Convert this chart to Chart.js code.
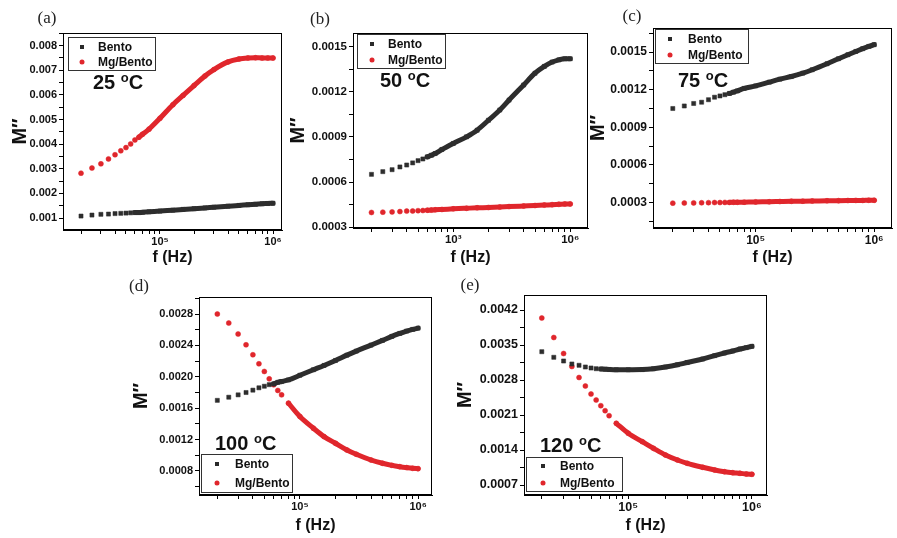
<!DOCTYPE html>
<html>
<head>
<meta charset="utf-8">
<script src="https://cdn.jsdelivr.net/npm/chart.js@4/dist/chart.umd.min.js"></script>
<style>
  html, body { margin: 0; padding: 0; background: #fff; }
  #wrap { position: relative; width: 897px; height: 538px; overflow: hidden; background: #fff; font-family: "Liberation Sans", Arial, sans-serif; }
  canvas { position: absolute; }
  .plabel { position: absolute; font-family: "Liberation Serif", "Times New Roman", serif; font-size: 17px; color: #222; transform: translate(-50%, -50%); white-space: nowrap; }
  .temp { position: absolute; font-weight: bold; font-size: 20px; color: #111; transform: translateY(-50%); white-space: nowrap; line-height: 20px; }
  .temp sup { font-size: 13px; vertical-align: 7px; line-height: 0; }
  .legend { position: absolute; border: 1px solid #333; box-sizing: border-box; }
  .lrow { position: absolute; font-weight: bold; font-size: 12px; color: #111; white-space: nowrap; line-height: 14px; transform: translateY(-50%); }
  .msq { position: absolute; width: 4px; height: 4px; background: #2a2a2a; transform: translate(-50%, -50%); }
  .mci { position: absolute; width: 5px; height: 5px; border-radius: 50%; background: #e0262c; transform: translate(-50%, -50%); }
</style>
</head>
<body>
<div id="wrap"></div>
<script>
// ---------------- data ----------------
const freqHz = [20000, 25000, 30000, 35000, 40000, 45000, 50000, 55000, 60000, 65000, 70000, 80000,
  100000, 130000, 160000, 200000, 250000, 300000, 400000, 500000, 600000, 700000, 800000, 900000, 1000000];

const bento25 = [0.00108, 0.00112, 0.00115, 0.00116, 0.00118, 0.00119, 0.0012, 0.00121, 0.00122, 0.00122, 0.00123, 0.00125,
  0.00128, 0.00132, 0.00135, 0.00138, 0.00141, 0.00144, 0.00148, 0.00151, 0.00154, 0.00156, 0.00158, 0.00159, 0.0016];
const mgBento25 = [0.00282, 0.00303, 0.0032, 0.0034, 0.00357, 0.00373, 0.00386, 0.00401, 0.00417, 0.00428, 0.0044, 0.00461,
  0.00505, 0.0056, 0.00598, 0.00638, 0.00677, 0.00703, 0.00734, 0.00746, 0.0075, 0.00751, 0.0075, 0.0075, 0.0075];

const bento50 = [0.000651, 0.000669, 0.000682, 0.0007, 0.000713, 0.000727, 0.000742, 0.000753, 0.000767, 0.000778, 0.000789, 0.000816,
  0.000856, 0.0009, 0.000944, 0.00101, 0.001078, 0.001144, 0.001244, 0.001322, 0.001367, 0.001396, 0.001411, 0.001418, 0.001418];
const mgBento50 = [0.000398, 0.0004, 0.000402, 0.000404, 0.000407, 0.000408, 0.00041, 0.000411, 0.000413, 0.000414, 0.000416, 0.000418,
  0.000422, 0.000426, 0.000429, 0.000431, 0.000434, 0.000437, 0.000441, 0.000444, 0.000447, 0.00045, 0.000452, 0.000454, 0.000455];

const bento75 = [0.00105, 0.00107, 0.00109, 0.0011, 0.00112, 0.00114, 0.00115, 0.00116, 0.00117, 0.00118, 0.00119, 0.00121,
  0.00123, 0.00126, 0.001284, 0.001305, 0.001332, 0.001359, 0.001407, 0.001447, 0.001479, 0.001505, 0.001527, 0.001545, 0.001559];
const mgBento75 = [0.000295, 0.000296, 0.000297, 0.000298, 0.000299, 0.0003, 0.0003, 0.000301, 0.000301, 0.000302, 0.000302, 0.000303,
  0.000305, 0.000306, 0.000308, 0.00031, 0.000311, 0.000312, 0.000314, 0.000315, 0.000316, 0.000317, 0.000317, 0.000318, 0.000318];

const bento100 = [0.0017, 0.00174, 0.00177, 0.0018, 0.00183, 0.00186, 0.00188, 0.0019, 0.00191, 0.00193, 0.00194, 0.00196,
  0.00202, 0.00209, 0.002145, 0.002208, 0.002276, 0.002328, 0.002404, 0.002464, 0.002515, 0.002553, 0.002583, 0.002604, 0.00262];
const mgBento100 = [0.0028, 0.002685, 0.002545, 0.002408, 0.002281, 0.002166, 0.002068, 0.001974, 0.001898, 0.001826, 0.00177, 0.001664,
  0.001494, 0.001345, 0.001238, 0.001153, 0.001068, 0.001013, 0.00094, 0.000898, 0.000872, 0.000855, 0.000843, 0.000834, 0.00083];

const bento120 = [0.003366, 0.003254, 0.00318, 0.00312, 0.003094, 0.00306, 0.00304, 0.003026, 0.00302, 0.003015, 0.00301, 0.003005,
  0.003005, 0.003008, 0.003025, 0.00306, 0.003105, 0.00315, 0.00322, 0.003287, 0.00334, 0.00338, 0.00342, 0.003447, 0.003473];
const mgBento120 = [0.00404, 0.00365, 0.00333, 0.00307, 0.00285, 0.00268, 0.00252, 0.0024, 0.002286, 0.002186, 0.002086, 0.001934,
  0.001734, 0.001566, 0.001434, 0.0013, 0.0012, 0.001134, 0.001054, 0.001, 0.000966, 0.000946, 0.000934, 0.00092, 0.000914];

const xTickValues = [20000, 30000, 40000, 50000, 60000, 70000, 80000, 90000, 100000,
  200000, 300000, 400000, 500000, 600000, 700000, 800000, 900000, 1000000];
const xTickLabels = { 100000: '10\u2075', 1000000: '10\u2076' };
const xTickLabelsB = { 100000: '10\u00B3', 1000000: '10\u2076' };

const yTicks25 = [0.001, 0.002, 0.003, 0.004, 0.005, 0.006, 0.007, 0.008];
const yLabels25 = ['0.001', '0.002', '0.003', '0.004', '0.005', '0.006', '0.007', '0.008'];
const yTicks50 = [0.0003, 0.0006, 0.0009, 0.0012, 0.0015];
const yLabels50 = ['0.0003', '0.0006', '0.0009', '0.0012', '0.0015'];
const yTicks100 = [0.0008, 0.0012, 0.0016, 0.0020, 0.0024, 0.0028];
const yLabels100 = ['0.0008', '0.0012', '0.0016', '0.0020', '0.0024', '0.0028'];
const yTicks120 = [0.0007, 0.0014, 0.0021, 0.0028, 0.0035, 0.0042];
const yLabels120 = ['0.0007', '0.0014', '0.0021', '0.0028', '0.0035', '0.0042'];

const seriesNames = ['Bento', 'Mg/Bento'];
const tempLabels = ['25', '50', '75', '100', '120'];
const panelLetters = ['(a)', '(b)', '(c)', '(d)', '(e)'];

// ---------------- layout / style ----------------
const BLACK = '#2d2d2d';
const RED = '#e0262c';

const panels = [
  { letter: panelLetters[0], temp: tempLabels[0], bento: bento25, mg: mgBento25, yTicks: yTicks25, yLabels: yLabels25, xLabels: xTickLabels,
    frame: { L: 63, T: 33, R: 282, B: 230 }, canvas: { L: 6, T: 20, R: 290, B: 270 },
    xMin: 13858, xMax: 1201000, yMin: 0.000513, yMax: 0.008515, tickFont: 11,
    bandStart: [60000, 65000],
    letterPos: [47, 18], tempPos: [93, 82],
    legend: { box: [68, 37, 156, 71], rows: [47, 62], mx: 82, tx: 98 } },
  { letter: panelLetters[1], temp: tempLabels[1], bento: bento50, mg: mgBento50, yTicks: yTicks50, yLabels: yLabels50, xLabels: xTickLabelsB,
    frame: { L: 353, T: 33, R: 588, B: 228 }, canvas: { L: 284, T: 20, R: 596, B: 270 },
    xMin: 13900, xMax: 1419000, yMin: 0.000295, yMax: 0.001589, tickFont: 11.5,
    bandStart: [60000, 60000],
    letterPos: [320, 19], tempPos: [380, 80],
    legend: { box: [357, 34, 446, 69], rows: [43.5, 60], mx: 372, tx: 388 } },
  { letter: panelLetters[2], temp: tempLabels[2], bento: bento75, mg: mgBento75, yTicks: yTicks50, yLabels: yLabels50, xLabels: xTickLabels,
    frame: { L: 653, T: 28, R: 892, B: 228 }, canvas: { L: 584, T: 15, R: 897, B: 270 },
    xMin: 13614, xMax: 1413000, yMin: 0.0000968, yMax: 0.001692, tickFont: 12,
    bandStart: [60000, 60000],
    letterPos: [632, 16], tempPos: [678, 80],
    legend: { box: [655, 29, 749, 64], rows: [38.5, 55], mx: 670, tx: 688 } },
  { letter: panelLetters[3], temp: tempLabels[3], bento: bento100, mg: mgBento100, yTicks: yTicks100, yLabels: yLabels100, xLabels: xTickLabels,
    frame: { L: 199, T: 297, R: 432, B: 495 }, canvas: { L: 127, T: 284, R: 440, B: 538 },
    xMin: 13996, xMax: 1312000, yMin: 0.000494, yMax: 0.003017, tickFont: 11,
    bandStart: [60000, 80000],
    letterPos: [139, 286], tempPos: [215, 443],
    legend: { box: [201, 454, 293, 493], rows: [464, 483], mx: 217, tx: 235 } },
  { letter: panelLetters[4], temp: tempLabels[4], bento: bento120, mg: mgBento120, yTicks: yTicks120, yLabels: yLabels120, xLabels: xTickLabels,
    frame: { L: 524, T: 295, R: 767, B: 495 }, canvas: { L: 451, T: 282, R: 775, B: 538 },
    xMin: 14355, xMax: 1324000, yMin: 0.0005, yMax: 0.0045, tickFont: 12.5,
    bandStart: [60000, 80000],
    letterPos: [470, 285], tempPos: [540, 445],
    legend: { box: [526, 457, 623, 492], rows: [466, 482.5], mx: 543, tx: 560 } }
];

const framePlugin = {
  id: 'frame',
  afterDraw(chart) {
    const a = chart.chartArea, ctx = chart.ctx;
    ctx.save();
    ctx.strokeStyle = '#000';
    ctx.lineWidth = 1;
    ctx.strokeRect(Math.round(a.left) + 0.5, Math.round(a.top) + 0.5, Math.round(a.right - a.left) - 1, Math.round(a.bottom - a.top) - 1);
    ctx.restore();
  }
};

const wrap = document.getElementById('wrap');

function el(tag, cls, style, html) {
  const e = document.createElement(tag);
  if (cls) e.className = cls;
  Object.assign(e.style, style || {});
  if (html !== undefined) e.innerHTML = html;
  wrap.appendChild(e);
  return e;
}

panels.forEach((p) => {
  const c = p.canvas, f = p.frame;
  const cw = c.R - c.L, ch = c.B - c.T;
  const yw = f.L - c.L, xh = c.B - f.B, padTop = f.T - c.T, padRight = c.R - f.R;
  const cv = document.createElement('canvas');
  cv.width = cw; cv.height = ch;
  cv.style.left = c.L + 'px'; cv.style.top = c.T + 'px';
  cv.style.width = cw + 'px'; cv.style.height = ch + 'px';
  wrap.appendChild(cv);

  const majors = p.yTicks;
  const step = majors[1] - majors[0];
  const yAll = [];
  const first = majors[0] - step / 2;
  for (let v = first; v <= p.yMax + 1e-12; v += step / 2) {
    if (v >= p.yMin - 1e-12) yAll.push(+v.toPrecision(8));
  }

  const pts = (data) => freqHz.map((x, i) => ({ x, y: data[i] }));
  const markerSet = (label, data, color, style, radius) => ({
    label, data: pts(data), showLine: false,
    pointStyle: style, pointRadius: radius, pointBorderWidth: 0.5,
    pointBorderColor: color, pointBackgroundColor: color, borderColor: color, backgroundColor: color
  });
  const bandSet = (label, data, color, from) => ({
    label: label + ' (dense)', data: pts(data).filter((d) => d.x >= from),
    showLine: true, borderColor: color, borderWidth: 5, borderCapStyle: 'round', borderJoinStyle: 'round',
    cubicInterpolationMode: 'monotone', pointRadius: 0, fill: false
  });

  new Chart(cv, {
    type: 'line',
    data: {
      datasets: [
        bandSet(seriesNames[0], p.bento, BLACK, p.bandStart[0]),
        markerSet(seriesNames[0], p.bento, BLACK, 'rect', 2.9),
        bandSet(seriesNames[1], p.mg, RED, p.bandStart[1]),
        markerSet(seriesNames[1], p.mg, RED, 'circle', 2.5)
      ]
    },
    options: {
      responsive: false,
      animation: false,
      devicePixelRatio: 1,
      layout: { padding: { top: padTop, right: padRight, left: 0, bottom: 0 } },
      plugins: { legend: { display: false }, tooltip: { enabled: false } },
      scales: {
        x: {
          type: 'logarithmic',
          min: p.xMin, max: p.xMax,
          afterBuildTicks: (s) => { s.ticks = xTickValues.map((v) => ({ value: v, major: !!p.xLabels[v] })); },
          afterFit: (s) => { s.height = xh; },
          ticks: {
            autoSkip: false, maxRotation: 0, minRotation: 0, padding: 1, color: '#111',
            font: { family: 'Liberation Sans', weight: 'bold', size: p.tickFont },
            callback: (v) => p.xLabels[v] || ''
          },
          grid: { drawOnChartArea: false, drawTicks: true, tickLength: 4, color: '#000' },
          border: { display: true, color: '#000', width: 1 },
          title: { display: true, text: 'f (Hz)', color: '#111', padding: { top: 0, bottom: 3 },
            font: { family: 'Liberation Sans', weight: 'bold', size: 16 } }
        },
        y: {
          type: 'linear',
          min: p.yMin, max: p.yMax,
          afterBuildTicks: (s) => { s.ticks = yAll.map((v) => ({ value: v })); },
          afterFit: (s) => { s.width = yw; },
          ticks: {
            autoSkip: false, padding: 2, color: '#111',
            font: { family: 'Liberation Sans', weight: 'bold', size: p.tickFont },
            callback: (v) => {
              const i = majors.findIndex((m) => Math.abs(m - v) < step * 1e-3);
              return i >= 0 ? p.yLabels[i] : '';
            }
          },
          grid: { drawOnChartArea: false, drawTicks: true, tickLength: 4, color: '#000' },
          border: { display: true, color: '#000', width: 1 },
          title: { display: true, text: 'M\u2033', color: '#111', padding: { top: 2, bottom: 0 },
            font: { family: 'Liberation Sans', weight: 'bold', size: 20 } }
        }
      }
    },
    plugins: [framePlugin]
  });

  el('div', 'plabel', { left: p.letterPos[0] + 'px', top: p.letterPos[1] + 'px' }, p.letter);
  el('div', 'temp', { left: p.tempPos[0] + 'px', top: p.tempPos[1] + 'px' }, p.temp + ' <sup>o</sup>C');
  const lg = p.legend;
  el('div', 'legend', { left: lg.box[0] + 'px', top: lg.box[1] + 'px', width: (lg.box[2] - lg.box[0]) + 'px', height: (lg.box[3] - lg.box[1]) + 'px' });
  el('div', 'msq', { left: lg.mx + 'px', top: lg.rows[0] + 'px' });
  el('div', 'mci', { left: lg.mx + 'px', top: lg.rows[1] + 'px' });
  el('div', 'lrow', { left: lg.tx + 'px', top: lg.rows[0] + 'px' }, seriesNames[0]);
  el('div', 'lrow', { left: lg.tx + 'px', top: lg.rows[1] + 'px' }, seriesNames[1]);
});
</script>
</body>
</html>
